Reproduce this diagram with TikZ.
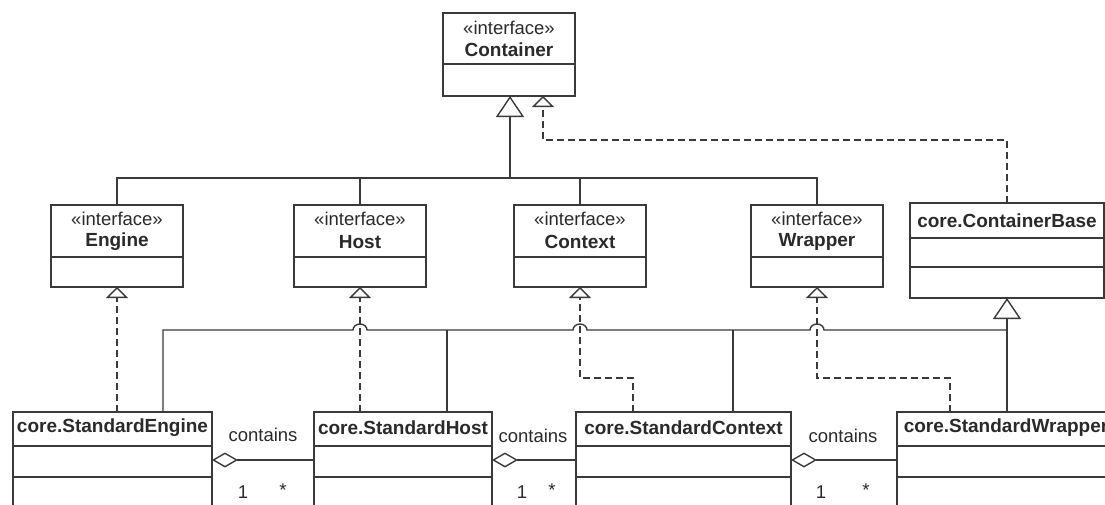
\documentclass[tikz,border=0pt]{standalone}
\usepackage{fontspec}
\setmainfont{Liberation Sans}
\usetikzlibrary{arrows.meta,calc}
\definecolor{lc}{HTML}{3A3A3A}
\definecolor{tc}{HTML}{2A2A2A}
\newcommand\fsreg{\fontsize{18.5}{22}\selectfont}
\newcommand\fsbold{\fontsize{19}{22}\selectfont\bfseries}
\begin{document}
\begin{tikzpicture}[x=1pt,y=-1pt,
 ln/.style={draw=lc,line width=1.4pt},
 boxx/.style={ln,fill=white,inner sep=0pt,outer sep=0pt,rectangle},
 st/.style={inner sep=0pt,font=\fsreg,text=tc},
 nm/.style={inner sep=0pt,font=\fsbold,text=tc},
 lbl/.style={inner sep=0pt,font=\fsreg,text=tc},
 dsh/.style={ln,dash pattern=on 7pt off 4pt},
 gen/.style={ln,-{Triangle[open,length=21pt,width=28pt,fill=white]}},
 real/.style={dsh,-{Triangle[open,length=11pt,width=22pt,fill=white]}},
 agg/.style={ln,-{Diamond[open,length=26pt,width=15pt,fill=white]}},
]
\useasboundingbox (0,0) rectangle (1105,504);
\clip (0,0) rectangle (1105,504);
\fill[white] (0,0) rectangle (1105,504);

% ---------- Container ----------
\node[boxx,minimum width=132pt,minimum height=83pt] (container) at (509,54.5) {};
\draw[ln] (container.west |- 0,64) -- (container.east |- 0,64);
\node[st] (containerst) at (509,28) {«interface»};
\node[nm] (containernm) at (509,50) {Container};

% ---------- interfaces ----------
\foreach \n/\x/\t in {engine/117/Engine,host/360/Host,context/580/Context,wrapper/817/Wrapper}{
  \node[boxx,minimum width=132pt,minimum height=82pt] (\n) at (\x,246) {};
  \draw[ln] (\n.west |- 0,257) -- (\n.east |- 0,257);
  \node[st] (\n st) at (\x,219) {«interface»};
  \node[nm] (\n nm) at (\x,242) {\t};
}

% ---------- ContainerBase ----------
\node[boxx,minimum width=194pt,minimum height=95pt] (cbase) at (1007,250.5) {};
\draw[ln] (cbase.west |- 0,238) -- (cbase.east |- 0,238);
\draw[ln] (cbase.west |- 0,267) -- (cbase.east |- 0,267);
\node[nm] (cbasenm) at (1007,221) {core.ContainerBase};

% ---------- standard classes ----------
\foreach \n/\x/\w/\t in {sengine/112.5/199/core.StandardEngine,shost/403/178/core.StandardHost,scontext/683.5/215/core.StandardContext,swrapper/1006/218/core.StandardWrapper}{
  \node[boxx,minimum width=\w pt,minimum height=108pt] (\n) at (\x,466) {};
  \draw[ln] (\n.west |- 0,446) -- (\n.east |- 0,446);
  \draw[ln] (\n.west |- 0,477) -- (\n.east |- 0,477);
  \node[nm] (\n nm) at (\x,428) {\t};
}

% ---------- generalization to Container ----------
\coordinate (bus1) at (510,178);
\draw[gen] (bus1) -- (bus1 |- container.south);
\draw[ln] (engine.north) |- (bus1) -| (wrapper.north);
\draw[ln] (host.north) -- (host.north |- bus1);
\draw[ln] (context.north) -- (context.north |- bus1);

% ---------- ContainerBase realizes Container ----------
\coordinate (kb) at (543,140);
\draw[real] (cbase.north) |- (kb) -- (kb |- container.south);

% ---------- realizations of interfaces ----------
\draw[real] (sengine.north -| engine.south) -- (engine.south);
\draw[real] (shost.north -| host.south) -- (host.south);
\coordinate (kc) at (633,378);
\draw[real] (kc |- scontext.north) -- (kc) -| (context.south);
\coordinate (kw) at (950,378);
\draw[real] (kw |- swrapper.north) -- (kw) -| (wrapper.south);

% ---------- generalization to ContainerBase ----------
\draw[gen] (swrapper.north -| cbase.south) -- (cbase.south);
\coordinate (bus2) at (163,330);
\coordinate (jh) at (447,330);
\coordinate (jc) at (733,330);
\draw[ln] (bus2 |- sengine.north) -- (bus2)
  -- (353,330) arc[start angle=180,end angle=0,x radius=7pt,y radius=6pt]
  -- (573,330) arc[start angle=180,end angle=0,x radius=7pt,y radius=6pt]
  -- (810,330) arc[start angle=180,end angle=0,x radius=7pt,y radius=6pt]
  -- (bus2 -| cbase.south);
\draw[ln] (jh) -- (jh |- shost.north);
\draw[ln] (jc) -- (jc |- scontext.north);

% ---------- aggregations ----------
\coordinate (ay) at (0,460);
\draw[agg] (shost.west |- ay) -- (sengine.east |- ay);
\draw[agg] (scontext.west |- ay) -- (shost.east |- ay);
\draw[agg] (swrapper.west |- ay) -- (scontext.east |- ay);

\node[lbl] (c1) at (263,435) {contains};
\node[lbl] (c2) at (533,436) {contains};
\node[lbl] (c3) at (843,436) {contains};
\node[lbl] (o1) at (243,492) {1};
\node[lbl] (o2) at (522,492) {1};
\node[lbl] (o3) at (821,492) {1};
\node[lbl] (m1) at (283,490) {*};
\node[lbl] (m2) at (552,490) {*};
\node[lbl] (m3) at (866,490) {*};
\end{tikzpicture}
\end{document}
